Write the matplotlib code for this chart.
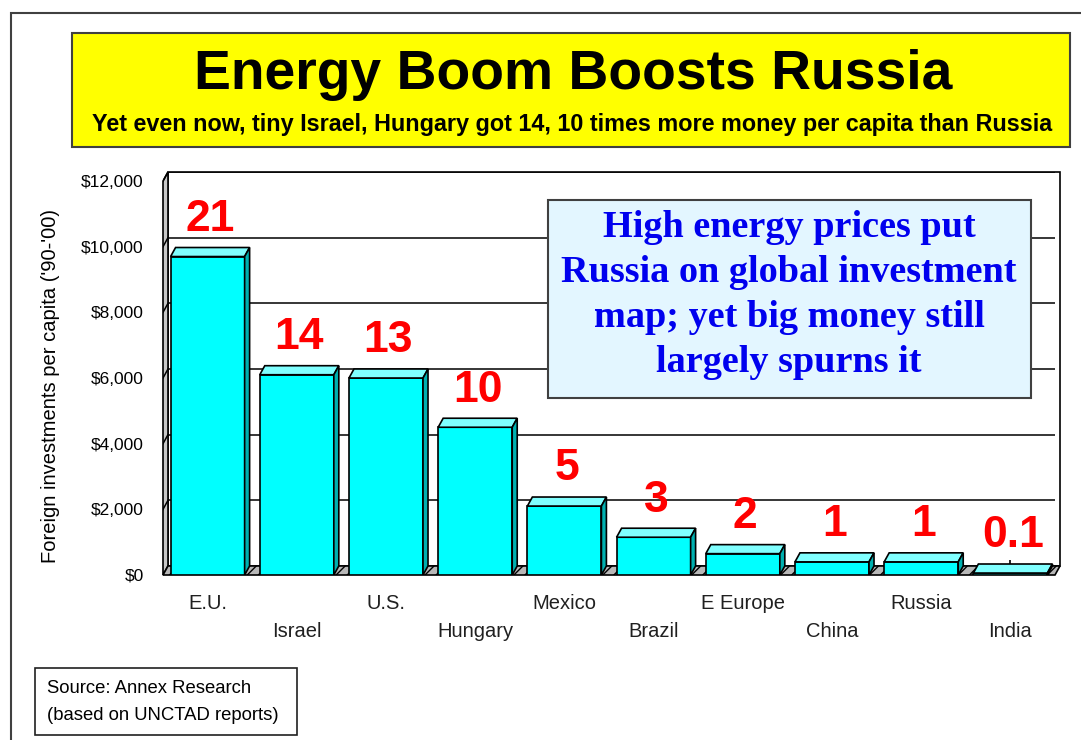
import numpy as np
import matplotlib.pyplot as plt
from matplotlib.patches import Polygon, Rectangle

countries = ['E.U.', 'Israel', 'U.S.', 'Hungary', 'Mexico', 'Brazil',
             'E Europe', 'China', 'Russia', 'India']
invest = [9700, 6100, 6000, 4500, 2100, 1150, 650, 400, 400, 60]
ratio_labels = ['21', '14', '13', '10', '5', '3', '2', '1', '1', '0.1']
yticks = [0, 2000, 4000, 6000, 8000, 10000, 12000]
ytick_labels = ['$0', '$2,000', '$4,000', '$6,000', '$8,000', '$10,000', '$12,000']

title = 'Energy Boom Boosts Russia'
subtitle = 'Yet even now, tiny Israel, Hungary got 14, 10 times more money per capita than Russia'
callout = ('High energy prices put\nRussia on global investment\n'
           'map; yet big money still\nlargely spurns it')
source = 'Source: Annex Research\n(based on UNCTAD reports)'

W, H = 1081, 740
SANS = 'Liberation Sans'
SERIF = 'Liberation Serif'

# fake 3d depth in data units
DX = 0.056
DY = 275
BW = 0.83


def fig_rect(fig, x0, y0, x1, y1, **kw):
    # pixel box (top-left origin) -> figure coords
    r = Rectangle((x0 / W, 1 - y1 / H), (x1 - x0) / W, (y1 - y0) / H,
                  transform=fig.transFigure, **kw)
    fig.patches.append(r)
    return r


def main():
    fig = plt.figure(figsize=(W / 100, H / 100), dpi=100)
    fig.patch.set_facecolor('white')

    # outer frame
    fig_rect(fig, 11, 13, 1095, 760, facecolor='none', edgecolor='#404040', lw=1.5)

    # title block
    fig_rect(fig, 72, 33, 1070, 147, facecolor='#FFFF00', edgecolor='#404040', lw=1.5)
    fig.text(573 / W, 1 - 75 / H, title, ha='center', va='center',
             fontsize=39.8, fontweight='bold', family=SANS)
    fig.text(572 / W, 1 - 125 / H, subtitle, ha='center', va='center',
             fontsize=16.8, fontweight='bold', family=SANS)

    ax = fig.add_axes([163 / W, 1 - 575 / H, (1055 - 163) / W, (575 - 172) / H])
    ax.set_xlim(-0.5, 9.5)
    ax.set_ylim(0, 12000 + DY)
    for s in ax.spines.values():
        s.set_visible(False)
    ax.patch.set_visible(False)

    x = np.arange(len(countries))

    # back wall, left wall, floor
    ax.add_patch(Rectangle((-0.5 + DX, DY), 10, 12000, facecolor='white',
                           edgecolor='black', lw=1.2, zorder=0.5, clip_on=False))
    ax.add_patch(Polygon([(-0.5, 0), (-0.5 + DX, DY), (-0.5 + DX, 12000 + DY), (-0.5, 12000)],
                         facecolor='#c8c8c8', edgecolor='black', lw=1.2, zorder=1, clip_on=False))
    ax.add_patch(Polygon([(-0.5, 0), (9.5, 0), (9.5 + DX, DY), (-0.5 + DX, DY)],
                         facecolor='#b8b8b8', edgecolor='black', hatch='///', lw=1.2,
                         zorder=1, clip_on=False))
    for v in yticks[1:]:
        ax.plot([-0.5 + DX, 9.5 + DX], [v + DY, v + DY], color='black', lw=1.1, zorder=0.8)
        ax.plot([-0.5, -0.5 + DX], [v, v + DY], color='black', lw=1.1, zorder=1.1)

    # bars with top and side faces
    ax.bar(x, invest, width=BW, color='#00FFFF', edgecolor='black', lw=1.2, zorder=3)
    for i, v in enumerate(invest):
        l, r = i - BW / 2, i + BW / 2
        ax.add_patch(Polygon([(l, v), (r, v), (r + DX, v + DY), (l + DX, v + DY)],
                             facecolor='#80FFFF', edgecolor='black', lw=1.2, zorder=3))
        ax.add_patch(Polygon([(r, 0), (r + DX, DY), (r + DX, v + DY), (r, v)],
                             facecolor='#00B0B0', edgecolor='black', lw=1.2, zorder=3))
        ax.annotate(ratio_labels[i], (i + DX / 2, v + DY), xytext=(0, 12),
                    textcoords='offset points', ha='center', va='baseline',
                    color='#FF0000', fontsize=32, fontweight='bold', family=SANS,
                    zorder=5)

    ax.set_xticks(x)
    ax.set_xticklabels([])
    ax.tick_params(axis='x', direction='in', length=11, width=1.2, color='black')
    for i, name in enumerate(countries):
        off = -14 if i % 2 == 0 else -34
        ax.annotate(name, (i, 0), xytext=(0, off), textcoords='offset points',
                    ha='center', va='top', fontsize=14.5, family=SANS, color='#202020')

    ax.set_yticks(yticks)
    ax.set_yticklabels(ytick_labels, family=SANS, fontsize=12.5)
    ax.tick_params(axis='y', length=0, pad=14)
    ax.set_ylabel("Foreign investments per capita ('90-'00)", family=SANS,
                  fontsize=14.5)
    ax.yaxis.set_label_coords(-0.116, 0.47)

    # callout box
    fig_rect(fig, 548, 200, 1031, 398, facecolor='#E3F6FF', edgecolor='#404040', lw=1.5,
             zorder=6)
    fig.text(789 / W, 1 - 295 / H, callout, ha='center', va='center',
             fontsize=27.5, fontweight='bold', family=SERIF, color='#0000EE',
             linespacing=1.36, zorder=7)

    # source box
    fig_rect(fig, 35, 668, 297, 735, facecolor='white', edgecolor='#202020', lw=1.2)
    fig.text(47 / W, 1 - 702 / H, source, ha='left', va='center',
             fontsize=13.3, family=SANS, linespacing=1.75)

    fig.savefig('out.png', dpi=100)


if __name__ == '__main__':
    main()
